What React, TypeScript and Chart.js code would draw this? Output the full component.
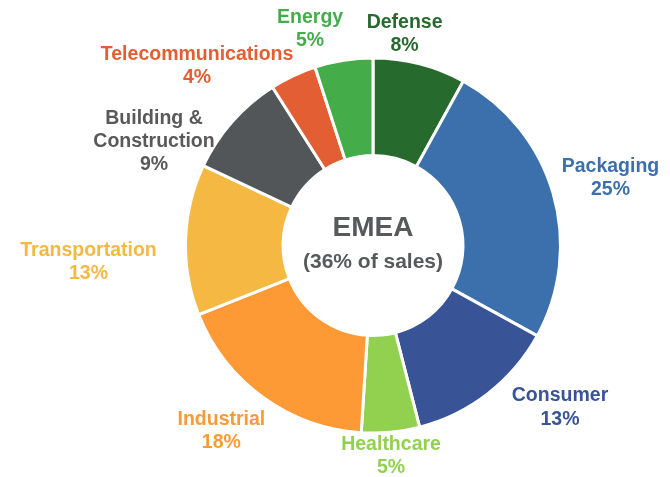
import React, { useEffect, useRef } from "react";
import { Chart, registerables } from "chart.js";

Chart.register(...registerables);

// ---- data ----
const categories = [
  "Defense",
  "Packaging",
  "Consumer",
  "Healthcare",
  "Industrial",
  "Transportation",
  "Building &\nConstruction",
  "Telecommunications",
  "Energy",
];
const shares = [8, 25, 13, 5, 18, 13, 9, 4, 5];
const regionTitle = "EMEA";
const regionSubtitle = "(36% of sales)";

// ---- styles ----
const sliceColors = [
  "#276A2D",
  "#3B70AC",
  "#385496",
  "#92D050",
  "#FE9A35",
  "#F5B843",
  "#525658",
  "#E35F33",
  "#44AD4A",
];
const labelColors = [
  "#276A2D",
  "#3B70AC",
  "#385496",
  "#92D050",
  "#FE9A35",
  "#F5B843",
  "#595959",
  "#E35F33",
  "#44AD4A",
];
// label placement relative to each arc (degrees shift from mid-angle, px beyond outer radius)
const labelAngleShift = [-5.9, 0.3, -11.3, 0.5, 3.2, -5.1, -16, -19.3, -7.2];
const labelRadialGap = [26.3, 59.4, 59.9, 23.8, 52.4, 97.5, 54.9, 63.5, 38];

const FONT = "'Liberation Sans', Arial, sans-serif";

const labelPlugin = {
  id: "outerLabels",
  afterDatasetsDraw(chart: any) {
    const ctx = chart.ctx;
    const meta = chart.getDatasetMeta(0);
    ctx.save();
    ctx.textAlign = "center";
    ctx.textBaseline = "middle";
    ctx.font = `bold 19.5px ${FONT}`;
    const lh = 23.3;
    meta.data.forEach((arc: any, i: number) => {
      const p = arc.getProps(["x", "y", "startAngle", "endAngle", "outerRadius"], true);
      const mid = (p.startAngle + p.endAngle) / 2 + (labelAngleShift[i] * Math.PI) / 180;
      const r = p.outerRadius + labelRadialGap[i];
      const cx = p.x + Math.cos(mid) * r;
      const cy = p.y + Math.sin(mid) * r;
      const lines = [...categories[i].split("\n"), `${shares[i]}%`];
      ctx.fillStyle = labelColors[i];
      lines.forEach((t, k) => {
        ctx.fillText(t, cx, cy + (k - (lines.length - 1) / 2) * lh);
      });
    });
    // center text
    const a0 = meta.data[0];
    if (a0) {
      const { x, y } = a0.getProps(["x", "y"], true);
      ctx.fillStyle = "#58595B";
      ctx.font = `bold 28px ${FONT}`;
      ctx.fillText(regionTitle, x, y - 17.5);
      ctx.font = `bold 21px ${FONT}`;
      ctx.fillText(regionSubtitle, x, y + 17);
    }
    ctx.restore();
  },
};

export default function App() {
  const ref = useRef<HTMLCanvasElement | null>(null);
  useEffect(() => {
    document.body.style.margin = "0";
    const canvas = ref.current;
    if (!canvas) return;
    const chart = new Chart(canvas, {
      type: "doughnut",
      data: {
        labels: categories.map((c) => c.replace("\n", " ")),
        datasets: [
          {
            data: shares,
            backgroundColor: sliceColors,
            borderColor: "#FFFFFF",
            borderWidth: 3,
            hoverOffset: 0,
          },
        ],
      },
      options: {
        responsive: false,
        animation: false,
        devicePixelRatio: 1,
        cutout: "48%",
        layout: { padding: { top: 56.5, bottom: 42.5, left: 184, right: 108 } },
        plugins: {
          legend: { display: false },
          tooltip: { enabled: false },
        },
        events: [],
      },
      plugins: [labelPlugin],
    });
    return () => chart.destroy();
  }, []);
  return (
    <div style={{ width: 670, height: 477, background: "#FFFFFF" }}>
      <canvas ref={ref} width={670} height={477} style={{ display: "block" }} />
    </div>
  );
}
